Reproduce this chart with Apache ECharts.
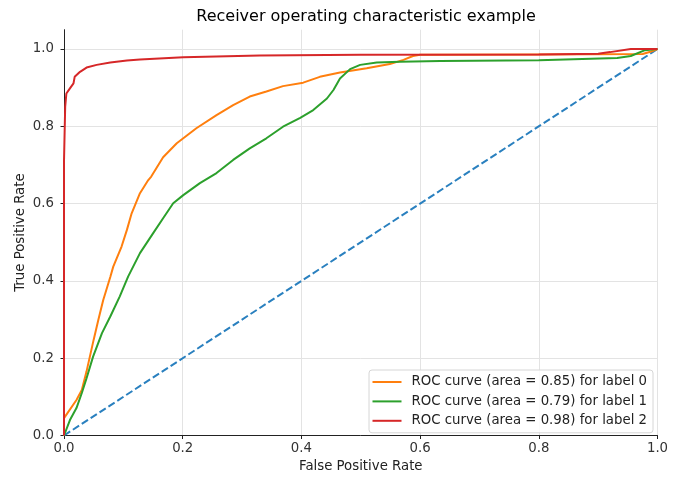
<!DOCTYPE html>
<html>
<head>
<meta charset="utf-8">
<script src="https://cdn.jsdelivr.net/npm/echarts@6/dist/echarts.min.js"></script>
<style>
html,body{margin:0;padding:0;background:#fff;}
#chart{width:683px;height:478px;}
</style>
</head>
<body>
<div id="chart"></div>
<script>
// ---- data ----
const titleText = "Receiver operating characteristic example";
const xAxisName = "False Positive Rate";
const yAxisName = "True Positive Rate";
const legendNames = [
  "ROC curve (area = 0.85) for label 0",
  "ROC curve (area = 0.79) for label 1",
  "ROC curve (area = 0.98) for label 2"
];
const fpr0 = [0,0,0.002,0.021,0.03,0.038,0.05,0.058,0.066,0.078,0.083,0.097,0.106,0.114,0.128,0.142,0.147,0.167,0.19,0.223,0.257,0.285,0.313,0.341,0.369,0.403,0.431,0.465,0.51,0.549,0.572,0.588,0.6,0.8,0.975,0.988,1.0];
const tpr0 = [0,0.045,0.048,0.092,0.118,0.166,0.248,0.30,0.35,0.41,0.437,0.489,0.532,0.575,0.627,0.661,0.67,0.72,0.756,0.795,0.829,0.855,0.877,0.89,0.904,0.913,0.928,0.939,0.95,0.961,0.972,0.982,0.985,0.986,0.987,0.993,1.0];
const fpr1 = [0,0,0.01,0.021,0.03,0.038,0.049,0.064,0.078,0.094,0.108,0.128,0.15,0.167,0.184,0.201,0.229,0.257,0.285,0.313,0.341,0.369,0.398,0.42,0.443,0.454,0.465,0.482,0.499,0.527,0.566,0.634,0.8,0.932,0.955,0.979,1.0];
const tpr1 = [0,0.004,0.04,0.071,0.11,0.148,0.204,0.265,0.308,0.36,0.411,0.472,0.523,0.562,0.601,0.622,0.653,0.679,0.713,0.743,0.769,0.799,0.822,0.842,0.872,0.894,0.924,0.948,0.959,0.965,0.967,0.969,0.971,0.977,0.982,0.997,1.0];
const fpr2 = [0,0,0.002,0.004,0.01,0.016,0.018,0.027,0.038,0.055,0.078,0.106,0.128,0.201,0.33,0.5,0.8,0.9,0.92,0.955,1.0];
const tpr2 = [0,0.71,0.851,0.885,0.898,0.911,0.928,0.941,0.952,0.959,0.965,0.97,0.973,0.979,0.983,0.985,0.986,0.988,0.992,1.0,1.0];
const diagX = [0,1];
const diagY = [0,1];
const tickValues = [0,0.2,0.4,0.6,0.8,1.0];

// ---- build ----
const zip = (a,b) => a.map((v,i) => [v,b[i]]);
const FONT = "DejaVu Sans";
const colors = ["#ff7f0e","#2ca02c","#d62728"];
const curves = [[fpr0,tpr0],[fpr1,tpr1],[fpr2,tpr2]];

const series = [{
  type:"line", data: zip(diagX,diagY), showSymbol:false, silent:true,
  lineStyle:{color:"#2a80bf", width:2, type:[7.4,3.2]}, z:2
}];
curves.forEach((c,i) => series.push({
  name: legendNames[i], type:"line", data: zip(c[0],c[1]), showSymbol:false,
  lineStyle:{color:colors[i], width:2}, itemStyle:{color:colors[i]}, z:3+i
}));

const fmt = v => tickValues.some(t => Math.abs(t-v)<1e-9) ? v.toFixed(1) : "";

const chart = echarts.init(document.getElementById("chart"), null, {renderer:"canvas"});
chart.setOption({
  animation:false,
  backgroundColor:"#ffffff",
  title:{
    text:titleText, left:361, top:4, textAlign:"center",
    textStyle:{fontFamily:FONT, fontSize:16, fontWeight:"normal", color:"#000"}
  },
  grid:{left:64, right:25.5, top:29.7, bottom:42.3, containLabel:false},
  xAxis:{
    type:"value", min:0, max:1, interval:0.2,
    name:xAxisName, nameLocation:"middle", nameGap:24.5, nameMoveOverlap:false,
    nameTextStyle:{fontFamily:FONT, fontSize:13.3, color:"#222"},
    axisLine:{show:true, onZero:false, lineStyle:{color:"#222", width:1}},
    axisTick:{show:true, length:3.5, lineStyle:{color:"#222"}},
    axisLabel:{margin:7, fontFamily:FONT, fontSize:13.3, color:"#333", formatter:fmt},
    splitLine:{show:true, lineStyle:{color:"#e3e3e3", width:1}}
  },
  yAxis:{
    type:"value", min:0, max:1.05, interval:0.2,
    name:yAxisName, nameLocation:"middle", nameGap:37, nameRotate:90, nameMoveOverlap:false,
    nameTextStyle:{fontFamily:FONT, fontSize:13.3, color:"#222"},
    axisLine:{show:true, onZero:false, lineStyle:{color:"#222", width:1}},
    axisTick:{show:true, length:3.5, lineStyle:{color:"#222"}},
    axisLabel:{margin:10, fontFamily:FONT, fontSize:13.3, color:"#333", formatter:fmt, showMaxLabel:false},
    splitLine:{show:true, showMaxLine:false, lineStyle:{color:"#e3e3e3", width:1}}
  },
  legend:{
    data:legendNames, orient:"vertical", left:369, top:370,
    icon:"rect", itemWidth:29, itemHeight:2, itemGap:4.4,
    padding:[4.5,6,4.5,3.5],
    borderColor:"#d6d6d6", borderWidth:1, borderRadius:3,
    backgroundColor:"rgba(255,255,255,0.85)",
    textStyle:{fontFamily:FONT, fontSize:13.3, color:"#222", lineHeight:15, padding:[0,0,0,5]},
    selectedMode:false
  },
  series:series
});
</script>
</body>
</html>
